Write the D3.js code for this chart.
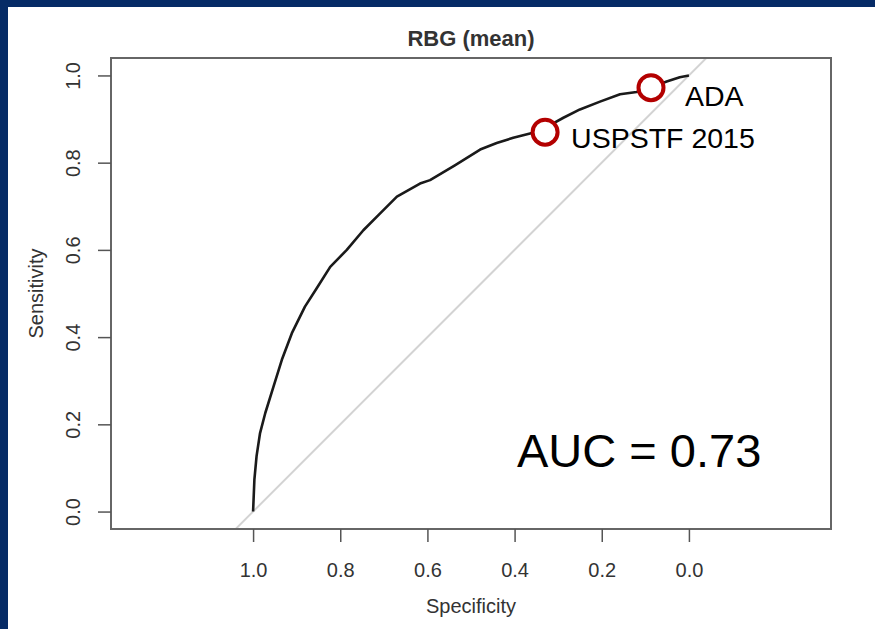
<!DOCTYPE html>
<html>
<head>
<meta charset="utf-8">
<script src="https://cdn.jsdelivr.net/npm/d3@7"></script>
<style>
  body { margin: 0; background: #ffffff; }
  svg { display: block; font-family: 'Liberation Sans', Arial, sans-serif; }
</style>
</head>
<body>
<div id="roc-chart"></div>
<script>
// ROC curve (specificity, sensitivity)
const specificity = [1.0, 0.997, 0.992, 0.984, 0.972, 0.953, 0.934, 0.911, 0.881, 0.854, 0.823,
  0.785, 0.747, 0.709, 0.670, 0.617, 0.594, 0.537, 0.479, 0.441, 0.403, 0.360, 0.330, 0.288,
  0.250, 0.204, 0.158, 0.120, 0.087, 0.051, 0.021, 0.0];
const sensitivity = [0.0, 0.073, 0.127, 0.180, 0.226, 0.287, 0.348, 0.409, 0.470, 0.512, 0.561,
  0.600, 0.645, 0.683, 0.722, 0.752, 0.760, 0.794, 0.830, 0.845, 0.857, 0.868, 0.880, 0.903,
  0.922, 0.940, 0.957, 0.962, 0.972, 0.986, 0.996, 1.0];

// guideline cut-offs marked on the curve
const markerNames = ['ADA', 'USPSTF 2015'];
const markerSpec = [0.087, 0.330];
const markerSens = [0.972, 0.870];

const tickValues = [0, 0.2, 0.4, 0.6, 0.8, 1.0];
const titleText = 'RBG (mean)';
const aucText = 'AUC = 0.73';

const drawRocChart = () => {
  const totalWidth = 875;
  const totalHeight = 629;
  const box = { left: 111, right: 831, top: 58, bottom: 529 };

  const curve = specificity.map((s, i) => ({ spec: s, sens: sensitivity[i] }));
  const markers = markerNames.map((name, i) => ({ name, spec: markerSpec[i], sens: markerSens[i] }));

  // pROC style: specificity runs backwards, asp = 1
  const xScale = d3.scaleLinear().domain([1.326, -0.326]).range([box.left, box.right]);
  const yScale = d3.scaleLinear().domain([-0.04, 1.04]).range([box.bottom, box.top]);

  const svg = d3
    .select('#roc-chart')
    .append('svg')
    .attr('width', totalWidth)
    .attr('height', totalHeight);

  // slide frame
  svg.append('rect').attr('width', totalWidth).attr('height', totalHeight).attr('fill', '#ffffff');
  svg.append('rect').attr('width', totalWidth).attr('height', 7).attr('fill', '#062b66');
  svg.append('rect').attr('width', 8).attr('height', totalHeight).attr('fill', '#062b66');

  svg.append('clipPath').attr('id', 'plot-clip')
    .append('rect')
    .attr('x', box.left).attr('y', box.top)
    .attr('width', box.right - box.left).attr('height', box.bottom - box.top);

  // diagonal reference line
  svg
    .append('line')
    .attr('clip-path', 'url(#plot-clip)')
    .attr('x1', xScale(1.1)).attr('y1', yScale(-0.1))
    .attr('x2', xScale(-0.1)).attr('y2', yScale(1.1))
    .attr('stroke', '#d3d3d3')
    .attr('stroke-width', 2);

  // ROC curve
  const line = d3.line().x((d) => xScale(d.spec)).y((d) => yScale(d.sens));
  svg
    .append('path')
    .datum(curve)
    .attr('d', line)
    .attr('fill', 'none')
    .attr('stroke', '#1a1a1a')
    .attr('stroke-width', 2.6)
    .attr('stroke-linejoin', 'round');

  // box
  svg
    .append('rect')
    .attr('x', box.left).attr('y', box.top)
    .attr('width', box.right - box.left).attr('height', box.bottom - box.top)
    .attr('fill', 'none')
    .attr('stroke', '#666666')
    .attr('stroke-width', 2);

  // x axis
  const xAxis = svg
    .append('g')
    .attr('transform', `translate(0, ${box.bottom})`)
    .call(d3.axisBottom(xScale).tickValues(tickValues).tickFormat(d3.format('.1f')).tickSize(13).tickPadding(21));
  xAxis.select('.domain').remove();
  xAxis.selectAll('.tick line').attr('stroke', '#555555').attr('stroke-width', 1.5);
  xAxis.selectAll('text').attr('font-size', 20).attr('fill', '#333333')
    .attr('font-family', "'Liberation Sans', Arial, sans-serif");

  // y axis, labels parallel to axis like R
  const yAxis = svg
    .append('g')
    .attr('transform', `translate(${box.left}, 0)`)
    .call(d3.axisLeft(yScale).tickValues(tickValues).tickFormat(d3.format('.1f')).tickSize(13));
  yAxis.select('.domain').remove();
  yAxis.selectAll('.tick line').attr('stroke', '#555555').attr('stroke-width', 1.5);
  yAxis
    .selectAll('text')
    .attr('font-size', 20)
    .attr('fill', '#333333')
    .attr('font-family', "'Liberation Sans', Arial, sans-serif")
    .attr('x', null)
    .attr('dy', null)
    .attr('transform', 'translate(-31, 0) rotate(-90)')
    .style('text-anchor', 'middle');

  // titles
  svg
    .append('text')
    .attr('x', (box.left + box.right) / 2)
    .attr('y', 46)
    .attr('text-anchor', 'middle')
    .attr('font-size', 22)
    .attr('font-weight', 'bold')
    .attr('fill', '#333333')
    .text(titleText);

  svg
    .append('text')
    .attr('x', (box.left + box.right) / 2)
    .attr('y', 613)
    .attr('text-anchor', 'middle')
    .attr('font-size', 20)
    .attr('fill', '#333333')
    .text('Specificity');

  svg
    .append('text')
    .attr('transform', `translate(43, ${(box.top + box.bottom) / 2}) rotate(-90)`)
    .attr('text-anchor', 'middle')
    .attr('font-size', 20)
    .attr('fill', '#333333')
    .text('Sensitivity');

  // markers and their labels
  svg
    .selectAll('circle.marker')
    .data(markers)
    .join('circle')
    .attr('class', 'marker')
    .attr('cx', (d) => xScale(d.spec))
    .attr('cy', (d) => yScale(d.sens))
    .attr('r', 12.5)
    .attr('fill', '#ffffff')
    .attr('stroke', '#b30000')
    .attr('stroke-width', 4);

  svg
    .selectAll('text.marker-label')
    .data(markers)
    .join('text')
    .attr('class', 'marker-label')
    .attr('x', (d) => xScale(d.spec) + (d.name === 'ADA' ? 34 : 26))
    .attr('y', (d) => yScale(d.sens) + (d.name === 'ADA' ? 18 : 16))
    .attr('font-size', 28.5)
    .attr('fill', '#000000')
    .text((d) => d.name);

  svg
    .append('text')
    .attr('x', 517)
    .attr('y', 467)
    .attr('font-size', 47)
    .attr('fill', '#000000')
    .text(aucText);
};

drawRocChart();
</script>
</body>
</html>
